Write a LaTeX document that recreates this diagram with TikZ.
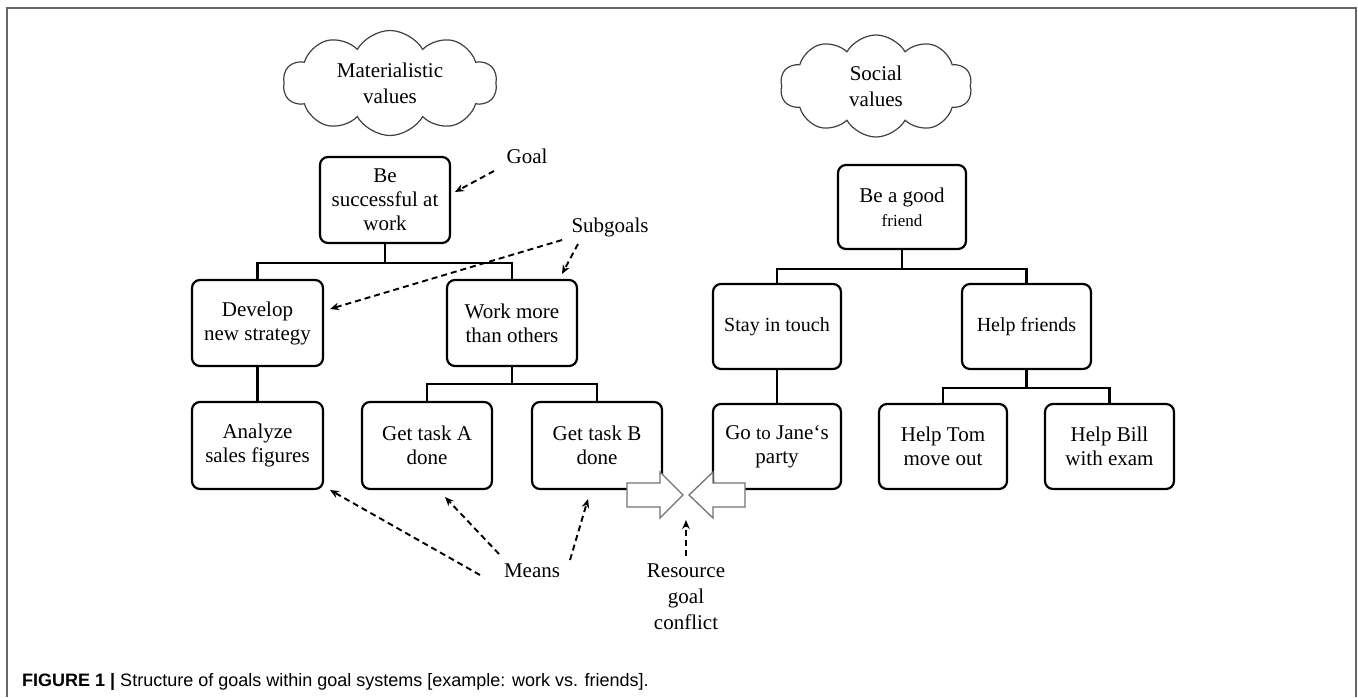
\documentclass[tikz,border=0pt]{standalone}
\usepackage{fontspec}
\setmainfont{Liberation Serif}
\setsansfont{Liberation Sans}
\usetikzlibrary{shapes.symbols,arrows.meta}
\tikzset{
  goalbox/.style={draw=black, line width=2.2pt, rounded corners=8pt, align=center,
    inner sep=0pt, font=\fontsize{21}{24}\selectfont},
  tree/.style={draw=black, line width=2.2pt},
  dasharrow/.style={draw=black, line width=1.9pt, dash pattern=on 6pt off 4pt,
    -{Stealth[length=9pt,width=7.5pt]}},
  valcloud/.style={cloud, draw=black!75, line width=1.2pt, cloud puffs=10, cloud puff arc=120,
    aspect=2, inner sep=0pt, align=center, font=\fontsize{21}{26}\selectfont},
  lbl/.style={align=center, inner sep=0pt, font=\fontsize{21}{26}\selectfont},
  blockarrow/.style={draw=black!55, line width=1.3pt, fill=white, line join=miter},
  frameline/.style={draw=black!60, line width=1.6pt}
}
\begin{document}
\begin{tikzpicture}[x=1pt,y=-1pt]
\useasboundingbox (0,0) rectangle (1358,697);
% frame
\draw[frameline] (7,697) -- (7,8) -- (1356,8) -- (1356,697);

% clouds
\node[valcloud, minimum width=214pt, minimum height=105pt] (mat) at (390,83) {Materialistic\\values};
\node[valcloud, minimum width=192pt, minimum height=102pt] (soc) at (876,86) {Social\\values};

% left tree
\node[goalbox, minimum width=130pt, minimum height=86pt] (succ) at (385,200) {Be\\successful at\\work};
\node[goalbox, minimum width=131pt, minimum height=86pt] (dev) at (257.5,323) {Develop\\new strategy};
\node[goalbox, minimum width=130pt, minimum height=86pt] (work) at (512,323) {Work more\\than others};
\node[goalbox, minimum width=131pt, minimum height=87pt] (anal) at (257.5,445.5) {Analyze\\sales figures};
\node[goalbox, minimum width=130pt, minimum height=87pt] (taska) at (427,445.5) {Get task A\\done};
\node[goalbox, minimum width=130pt, minimum height=87pt] (taskb) at (597,445.5) {Get task B\\done};

\draw[tree] (succ.south) -- ++(0,19) -| (dev.north);
\draw[tree] (succ.south) -- ++(0,19) -| (work.north);
\draw[tree] (dev.south) -- (anal.north);
\draw[tree] (work.south) -- ++(0,17) -| (taska.north);
\draw[tree] (work.south) -- ++(0,17) -| (taskb.north);

% right tree
\node[goalbox, minimum width=128pt, minimum height=84pt] (friend) at (902,207) {Be a good\\{\fontsize{17}{20}\selectfont friend}};
\node[goalbox, minimum width=128pt, minimum height=85pt, font=\fontsize{20}{24}\selectfont] (touch) at (777,326.5) {Stay in touch};
\node[goalbox, minimum width=129pt, minimum height=85pt, font=\fontsize{20}{24}\selectfont] (help) at (1026.5,326.5) {Help friends};
\node[goalbox, minimum width=128pt, minimum height=85pt] (jane) at (777,446.5) {Go {\fontsize{19}{24}\selectfont to} Jane‘s\\party};
\node[goalbox, minimum width=128pt, minimum height=85pt] (tom) at (943,446.5) {Help Tom\\move out};
\node[goalbox, minimum width=129pt, minimum height=85pt] (bill) at (1109.5,446.5) {Help Bill\\with exam};

\draw[tree] (friend.south) -- ++(0,19) -| (touch.north);
\draw[tree] (friend.south) -- ++(0,19) -| (help.north);
\draw[tree] (touch.south) -- (jane.north);
\draw[tree] (help.south) -- ++(0,18) -| (tom.north);
\draw[tree] (help.south) -- ++(0,18) -| (bill.north);

% block arrows (conflict)
\draw[blockarrow] (627,483) -- (660,483) -- (660,472) -- (683,495) -- (660,518) -- (660,507) -- (627,507) -- cycle;
\draw[blockarrow] (745,483) -- (713,483) -- (713,472) -- (689,495) -- (713,518) -- (713,507) -- (745,507) -- cycle;

% labels
\node[lbl] (goal) at (527,156) {Goal};
\node[lbl] (subg) at (610,227) {Subgoals};
\node[lbl] (means) at (532,571) {Means};
\node[lbl] (conf) at (686,597) {Resource\\goal\\conflict};

% dashed annotation arrows
\coordinate (g1) at (494,171);
\coordinate (g2) at (455,192);
\draw[dasharrow] (g1) -- (g2);
\coordinate (s1) at (562,240);
\coordinate (s2) at (330,309);
\draw[dasharrow] (s1) -- (s2);
\coordinate (s3) at (578,244);
\coordinate (s4) at (562,274);
\draw[dasharrow] (s3) -- (s4);
\coordinate (m1) at (480,575);
\coordinate (m2) at (330,490);
\draw[dasharrow] (m1) -- (m2);
\coordinate (m3) at (499,554);
\coordinate (m4) at (445,497);
\draw[dasharrow] (m3) -- (m4);
\coordinate (m5) at (570,560);
\coordinate (m6) at (588,499);
\draw[dasharrow] (m5) -- (m6);
\coordinate (c1) at (686,556);
\coordinate (c2) at (686,520);
\draw[dasharrow] (c1) -- (c2);

% caption
\node[anchor=base west, inner sep=0pt, font=\sffamily\fontsize{18}{22}\selectfont] (cap) at (22,686)
  {\textbf{FIGURE 1 |} Structure of goals within goal systems [example: work vs. friends].};
\end{tikzpicture}
\end{document}
